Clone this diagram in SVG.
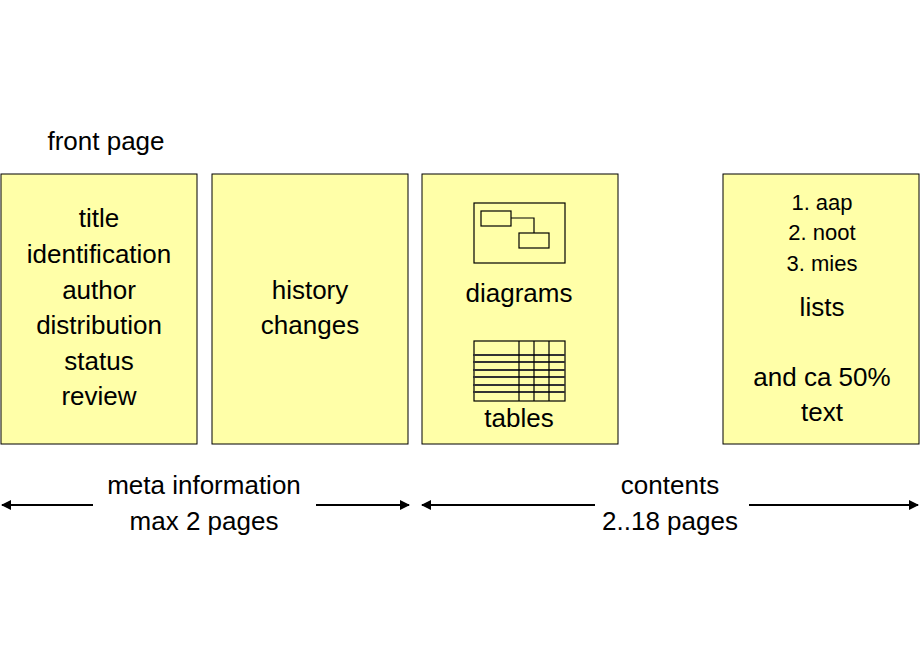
<svg xmlns="http://www.w3.org/2000/svg" width="920" height="660" viewBox="0 0 920 660">
<style>
.box{fill:#ffffa8;stroke:#000;stroke-width:1}
text{font-family:"Liberation Sans",Arial,sans-serif;font-size:26px;fill:#000;text-anchor:middle}
.sm{font-size:22px}
.ic{fill:none;stroke:#000;stroke-width:1.2}
.th{stroke:#333;stroke-width:2}
.ar{stroke:#000;stroke-width:2;fill:none}
</style>
<defs>
<marker id="ah" viewBox="0 0 10 10" refX="9" refY="5" markerWidth="5" markerHeight="5" orient="auto-start-reverse"><path d="M0,0L10,5L0,10z" fill="#000"/></marker>
</defs>
<rect width="920" height="660" fill="#fff"/>
<text x="106" y="150">front page</text>
<g id="front"><rect class="box" x="1" y="174" width="196" height="270"/>
<text x="99" y="227">title</text><text x="99" y="263">identification</text><text x="99" y="299">author</text><text x="99" y="334">distribution</text><text x="99" y="370">status</text><text x="99" y="405">review</text></g>
<g id="history"><rect class="box" x="212" y="174" width="196" height="270"/>
<text x="310" y="299">history</text><text x="310" y="334">changes</text></g>
<g id="diagrams"><rect class="box" x="422" y="174" width="196" height="270"/>
<rect class="ic" x="474" y="203" width="91" height="60"/>
<rect class="ic" x="481" y="211" width="30" height="15"/>
<rect class="ic" x="519" y="233" width="30" height="15"/>
<path class="ic" d="M511,218H534V233"/>
<text x="519" y="302">diagrams</text>
<rect class="ic" x="474" y="341" width="91" height="60"/>
<path class="th" d="M473,355H565M473,362H565M473,370H565M473,377H565M473,385H565M473,392H565"/>
<path class="ic" d="M519,341V401M534,341V401M549,341V401"/>
<text x="519" y="427">tables</text></g>
<g id="lists"><rect class="box" x="723" y="174" width="196" height="270"/>
<text class="sm" x="822" y="210">1. aap</text><text class="sm" x="822" y="240">2. noot</text><text class="sm" x="822" y="271">3. mies</text>
<text x="822" y="316">lists</text><text x="822" y="386">and ca 50%</text><text x="822" y="421">text</text></g>
<g id="connectors">
<path class="ar" d="M93,505H2" marker-end="url(#ah)"/>
<path class="ar" d="M316,505H409" marker-end="url(#ah)"/>
<path class="ar" d="M595,505H422" marker-end="url(#ah)"/>
<path class="ar" d="M749,505H918" marker-end="url(#ah)"/>
</g>
<text x="204" y="494">meta information</text><text x="204" y="530">max 2 pages</text>
<text x="670" y="494">contents</text><text x="670" y="530">2..18 pages</text>
</svg>
